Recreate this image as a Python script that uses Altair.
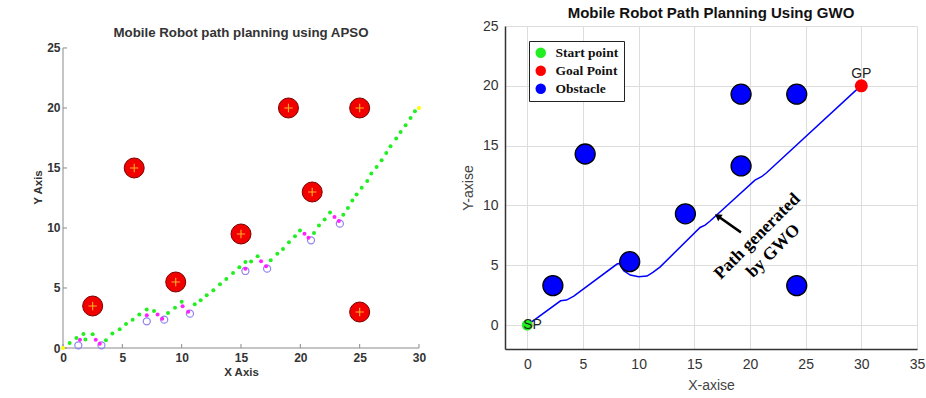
import altair as alt
import pandas as pd

# ---------------- APSO panel (left) ----------------
apso_obs_x = [2.5, 6, 9.5, 15, 19, 21, 25, 25]
apso_obs_y = [3.5, 15, 5.5, 9.5, 20, 13, 20, 3]

apso_path_x = [0.56, 1.13, 1.72, 1.89, 2.5, 3.62, 4.16, 4.78, 5.31, 5.87, 6.43, 7.05, 7.67,
               8.85, 9.44, 10.0, 11.1, 11.6, 12.11, 12.67, 13.23, 13.76, 14.33, 14.86, 15.37,
               15.85, 16.4, 17.5, 18.06, 18.54, 19.04, 19.55, 19.97, 21.15, 21.57, 22.05, 22.5,
               23.62, 24.01, 24.38, 24.74, 25.17, 25.64, 25.98, 26.43, 26.85, 27.24, 27.6, 28.08,
               28.45, 28.87, 29.29, 29.66]
apso_path_y = [0.42, 0.83, 1.17, 0.7, 1.14, 0.64, 1.2, 1.56, 2.0, 2.36, 2.8, 3.2, 3.08,
               2.92, 3.36, 3.85, 3.64, 3.97, 4.39, 4.81, 5.31, 5.75, 6.25, 6.72, 7.17,
               7.2, 7.64, 7.31, 7.86, 8.25, 8.81, 9.31, 9.8, 9.58, 10.2, 10.7, 11.28,
               11.1, 11.67, 12.3, 12.8, 13.36, 13.92, 14.53, 15.08, 15.64, 16.25, 16.8, 17.45,
               18.0, 18.56, 19.17, 19.72]

apso_mag_x = [1.43, 2.76, 3.1, 7.06, 7.97, 8.36, 10.08, 10.55, 15.37, 16.69, 17.11, 20.35, 20.69, 22.88, 23.25]
apso_mag_y = [0.69, 0.69, 0.36, 2.72, 2.8, 2.44, 3.47, 3.03, 6.61, 7.22, 6.81, 9.53, 9.19, 10.92, 10.58]

apso_circ_x = [1.29, 3.24, 7.06, 8.53, 10.7, 15.37, 17.2, 20.9, 23.33]
apso_circ_y = [0.22, 0.22, 2.22, 2.36, 2.86, 6.42, 6.61, 8.97, 10.36]

apso_end_x = [0, 30]
apso_end_y = [0, 20]

apso_xticks = [0, 5, 10, 15, 20, 25, 30]
apso_yticks = [0, 5, 10, 15, 20, 25]

# ---------------- GWO panel (right) ----------------
gwo_obs_x = [2.3, 5.2, 9.2, 14.2, 19.2, 24.2, 19.2, 24.2]
gwo_obs_y = [3.3, 14.3, 5.3, 9.3, 19.3, 19.3, 13.3, 3.3]

gwo_path_x = [0, 2.99, 3.52, 4.18, 8.06, 8.27, 8.66, 9.25, 10.0, 10.75, 11.28, 11.94,
              15.52, 15.97, 16.42, 20.45, 21.04, 21.49, 29.7, 29.9]
gwo_path_y = [0, 2.03, 2.09, 2.42, 5.1, 5.15, 4.54, 4.18, 4.04, 4.1, 4.4, 4.87,
              8.16, 8.36, 8.7, 12.12, 12.4, 12.73, 19.78, 19.92]

gwo_start = [0, 0]
gwo_goal = [30, 20]
gwo_legend = ["Start point", "Goal Point", "Obstacle"]
gwo_colors = ["#22ee22", "#ff0000", "#0000ff"]

gwo_arrow_tail = [19.19, 7.75]
gwo_arrow_head = [17.1, 9.11]
gwo_note_text = ["Path generated", "by GWO"]
gwo_note_x = [20.65, 22.1]
gwo_note_y = [7.42, 6.2]

gwo_xticks = [0, 5, 10, 15, 20, 25, 30, 35]
gwo_yticks = [0, 5, 10, 15, 20, 25]

# ================= LEFT CHART =================
W1, H1 = 356, 322
sx1 = alt.Scale(domain=[0, 30], nice=False, zero=False)
sy1 = alt.Scale(domain=[0, 26.83], nice=False, zero=False)
lab = dict(labelFont="Liberation Sans", labelFontWeight="bold", labelFontSize=12,
           labelColor="#333333", titleFont="Liberation Sans", titleFontWeight="bold",
           titleFontSize=11.5, titleColor="#333333", domain=False, ticks=False, grid=False,
           labelFlush=False)
ax1 = alt.Axis(values=apso_xticks, title="X Axis", labelPadding=4, titlePadding=3, format="d", **lab)
ay1 = alt.Axis(values=apso_yticks, title="Y Axis", labelPadding=3, titlePadding=3, format="d", **lab)

X1 = lambda f: alt.X(f, type="quantitative", scale=sx1, axis=ax1)
Y1 = lambda f: alt.Y(f, type="quantitative", scale=sy1, axis=ay1)

df_obs1 = pd.DataFrame({"x": apso_obs_x, "y": apso_obs_y})
df_path1 = pd.DataFrame({"x": apso_path_x, "y": apso_path_y})
df_mag1 = pd.DataFrame({"x": apso_mag_x, "y": apso_mag_y})
df_circ1 = pd.DataFrame({"x": apso_circ_x, "y": apso_circ_y})
df_end1 = pd.DataFrame({"x": apso_end_x, "y": apso_end_y})
df_xaxis1 = pd.DataFrame({"x": [apso_xticks[0]], "x2": [apso_xticks[-1]], "y": [0]})
df_yaxis1 = pd.DataFrame({"y": [apso_yticks[0]], "y2": [apso_yticks[-1]], "x": [0]})
df_xt1 = pd.DataFrame({"x": apso_xticks})
df_yt1 = pd.DataFrame({"y": apso_yticks})

axis_col = "#8a8a8a"
l_xaxis = alt.Chart(df_xaxis1).mark_rule(color=axis_col, strokeWidth=1).encode(
    x=X1("x"), x2="x2", y=Y1("y"))
l_yaxis = alt.Chart(df_yaxis1).mark_rule(color=axis_col, strokeWidth=1).encode(
    y=Y1("y"), y2="y2", x=X1("x"))
l_xt = alt.Chart(df_xt1).mark_rule(color=axis_col).encode(
    x=X1("x"), y=alt.value(H1), y2=alt.value(H1 - 4))
l_yt = alt.Chart(df_yt1).mark_rule(color=axis_col).encode(
    y=Y1("y"), x=alt.value(0), x2=alt.value(4))

l_obs = alt.Chart(df_obs1).mark_point(shape="circle", filled=True, size=400, fill="#f20000",
                                      stroke="#7a0000", strokeWidth=1, opacity=1).encode(
    x=X1("x"), y=Y1("y"))
l_plus = alt.Chart(df_obs1).mark_point(shape="M-1,0L1,0M0,-1L0,1", filled=False, size=70,
                                       stroke="#ffb020", strokeWidth=1.1, opacity=1).encode(
    x=X1("x"), y=Y1("y"))
l_circ = alt.Chart(df_circ1).mark_point(shape="circle", filled=False, size=50,
                                        stroke="#8f84ee", strokeWidth=1.2, opacity=1).encode(
    x=X1("x"), y=Y1("y"))
l_mag = alt.Chart(df_mag1).mark_point(shape="circle", filled=True, size=16,
                                      fill="#ff22ff", opacity=1).encode(
    x=X1("x"), y=Y1("y"))
l_path = alt.Chart(df_path1).mark_point(shape="circle", filled=True, size=16,
                                        fill="#22ee22", opacity=1).encode(
    x=X1("x"), y=Y1("y"))
l_end = alt.Chart(df_end1).mark_point(shape="circle", filled=True, size=16,
                                      fill="#ffff00", opacity=1).encode(
    x=X1("x"), y=Y1("y"))

left = alt.layer(l_xaxis, l_yaxis, l_xt, l_yt, l_obs, l_plus, l_circ, l_mag, l_path, l_end).properties(
    width=W1, height=H1,
    title=alt.TitleParams("Mobile Robot path planning using APSO", font="Liberation Sans",
                          fontSize=13.3, fontWeight="bold", color="#333333", offset=-13,
                          anchor="middle"))

# ================= RIGHT CHART =================
W2, H2 = 412, 323
sx2 = alt.Scale(domain=[-2, 35], nice=False, zero=False)
sy2 = alt.Scale(domain=[-2, 25], nice=False, zero=False)
lab2 = dict(labelFont="Liberation Sans", labelFontSize=14, labelColor="#333333",
            titleFont="Liberation Sans", titleFontSize=14, titleFontWeight="normal",
            titleColor="#444444", domain=True, domainColor="#333333", domainWidth=1.5,
            ticks=False, grid=True, gridColor="#dddddd", gridWidth=1, labelFlush=False)
ax2 = alt.Axis(values=gwo_xticks, title="X-axise", labelPadding=8, titlePadding=7, format="d", **lab2)
ay2 = alt.Axis(values=gwo_yticks, title="Y-axise", labelPadding=7, titlePadding=7, format="d", **lab2)

X2 = lambda f: alt.X(f, type="quantitative", scale=sx2, axis=ax2)
Y2 = lambda f: alt.Y(f, type="quantitative", scale=sy2, axis=ay2)
cscale = alt.Scale(domain=gwo_legend, range=gwo_colors)
legend = alt.Legend(title=None, orient="none", legendX=466, legendY=15, strokeColor="#222222",
                    fillColor="white", padding=5, labelFont="Liberation Serif",
                    labelFontWeight="bold", labelFontSize=13.5, labelColor="#111111",
                    symbolType="circle", symbolSize=110, symbolStrokeWidth=0, rowPadding=3,
                    labelOffset=8, cornerRadius=0)
C2 = alt.Color("kind:N", scale=cscale, legend=legend, sort=gwo_legend)

df_path2 = pd.DataFrame({"x": gwo_path_x, "y": gwo_path_y, "i": list(range(len(gwo_path_x)))})
df_obs2 = pd.DataFrame({"x": gwo_obs_x, "y": gwo_obs_y, "kind": gwo_legend[2]})
df_start = pd.DataFrame({"x": [gwo_start[0]], "y": [gwo_start[1]], "kind": [gwo_legend[0]], "t": ["SP"]})
df_goal = pd.DataFrame({"x": [gwo_goal[0]], "y": [gwo_goal[1]], "kind": [gwo_legend[1]], "t": ["GP"]})
df_arrow = pd.DataFrame({"x": [gwo_arrow_tail[0]], "y": [gwo_arrow_tail[1]],
                         "x2": [gwo_arrow_head[0]], "y2": [gwo_arrow_head[1]]})
df_head = pd.DataFrame({"x": [gwo_arrow_head[0]], "y": [gwo_arrow_head[1]]})
df_note = pd.DataFrame({"x": gwo_note_x, "y": gwo_note_y, "t": gwo_note_text})

r_path = alt.Chart(df_path2).mark_line(color="#0000ff", strokeWidth=1.5).encode(
    x=X2("x"), y=Y2("y"), order="i:Q")
r_obs = alt.Chart(df_obs2).mark_point(shape="circle", filled=True, size=400, stroke="black",
                                      strokeWidth=1.3, opacity=1).encode(
    x=X2("x"), y=Y2("y"), color=C2)
r_start = alt.Chart(df_start).mark_point(shape="circle", filled=True, size=120, opacity=1).encode(
    x=X2("x"), y=Y2("y"), color=C2)
r_goal = alt.Chart(df_goal).mark_point(shape="circle", filled=True, size=170, opacity=1).encode(
    x=X2("x"), y=Y2("y"), color=C2)
r_sp = alt.Chart(df_start).mark_text(font="Liberation Sans", fontSize=14, color="#222222",
                                     align="left", baseline="middle", dx=-4, dy=0).encode(
    x=X2("x"), y=Y2("y"), text="t:N")
r_gp = alt.Chart(df_goal).mark_text(font="Liberation Sans", fontSize=14, color="#222222",
                                    align="center", baseline="middle", dy=-12).encode(
    x=X2("x"), y=Y2("y"), text="t:N")
r_arrow = alt.Chart(df_arrow).mark_rule(color="black", strokeWidth=2.5).encode(
    x=X2("x"), y=Y2("y"), x2="x2", y2="y2")
r_head = alt.Chart(df_head).mark_point(shape="triangle-up", filled=True, size=60, angle=305,
                                       color="black", opacity=1).encode(
    x=X2("x"), y=Y2("y"))
r_note = alt.Chart(df_note).mark_text(font="Liberation Serif", fontWeight="bold", fontSize=17.5,
                                      color="black", angle=315, align="center",
                                      baseline="middle").encode(
    x=X2("x"), y=Y2("y"), text="t:N")

right = alt.layer(r_path, r_obs, r_start, r_goal, r_sp, r_gp, r_arrow, r_head, r_note).properties(
    width=W2, height=H2,
    title=alt.TitleParams("Mobile Robot Path Planning Using GWO", font="Liberation Sans",
                          fontSize=15, fontWeight="bold", color="#111111", offset=-2,
                          anchor="middle"))

chart = alt.hconcat(left, right, spacing=35).properties(
    padding={"left": 32, "top": 6, "right": 0, "bottom": 0},
    background="white",
).configure_view(stroke=None)

chart.save("out.html", embed_options={"renderer": "svg", "actions": False})
